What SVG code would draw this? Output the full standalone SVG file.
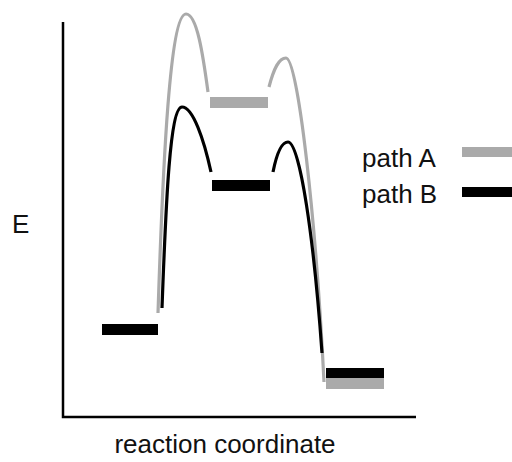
<svg xmlns="http://www.w3.org/2000/svg" width="512" height="462" viewBox="0 0 512 462">
  <style>
    .lbl { font-family: "Liberation Sans", Arial, sans-serif; font-size: 26px; fill: #111; }
    .axis { fill: none; stroke: #000; stroke-width: 2.5; }
    .curveA { fill: none; stroke: #aaaaaa; stroke-width: 3.2; }
    .curveB { fill: none; stroke: #000; stroke-width: 3.2; }
    .barA { fill: #aaaaaa; }
    .barB { fill: #000; }
  </style>
  <rect width="512" height="462" fill="#fff"/>

  <!-- axes -->
  <g id="axes">
    <path class="axis" d="M63,22 V417 H416"/>
    <text class="lbl" x="12" y="233">E</text>
    <text class="lbl" x="225" y="453" text-anchor="middle">reaction coordinate</text>
  </g>

  <!-- energy levels -->
  <g id="reactant">
    <rect class="barB" x="102" y="324" width="56" height="11"/>
  </g>
  <g id="intermediate-A">
    <rect class="barA" x="210" y="97" width="58" height="11"/>
  </g>
  <g id="intermediate-B">
    <rect class="barB" x="212" y="180" width="58" height="11"/>
  </g>
  <g id="product">
    <rect class="barA" x="326" y="378" width="58" height="11"/>
    <rect class="barB" x="326" y="368" width="58" height="10"/>
  </g>

  <!-- barriers between levels -->
  <g id="connectors">
    <path class="curveA" d="M158,313 C163,160 170,14 186,14 C197,14 203,55 208,92"/>
    <path class="curveA" d="M269,87 C274,68 279,58 286,58 C298,58 316,220 324,382"/>
    <path class="curveB" d="M162,308 C166,200 170,107 182,107 C193,107 204,140 211,172"/>
    <path class="curveB" d="M273,172 C277,152 282,142 288,142 C300,142 314,240 322,353"/>
  </g>

  <!-- legend -->
  <g id="legend-A">
    <text class="lbl" x="362" y="167">path A</text>
    <rect class="barA" x="462" y="147" width="50" height="10"/>
  </g>
  <g id="legend-B">
    <text class="lbl" x="362" y="203">path B</text>
    <rect class="barB" x="462" y="187" width="50" height="10"/>
  </g>
</svg>
